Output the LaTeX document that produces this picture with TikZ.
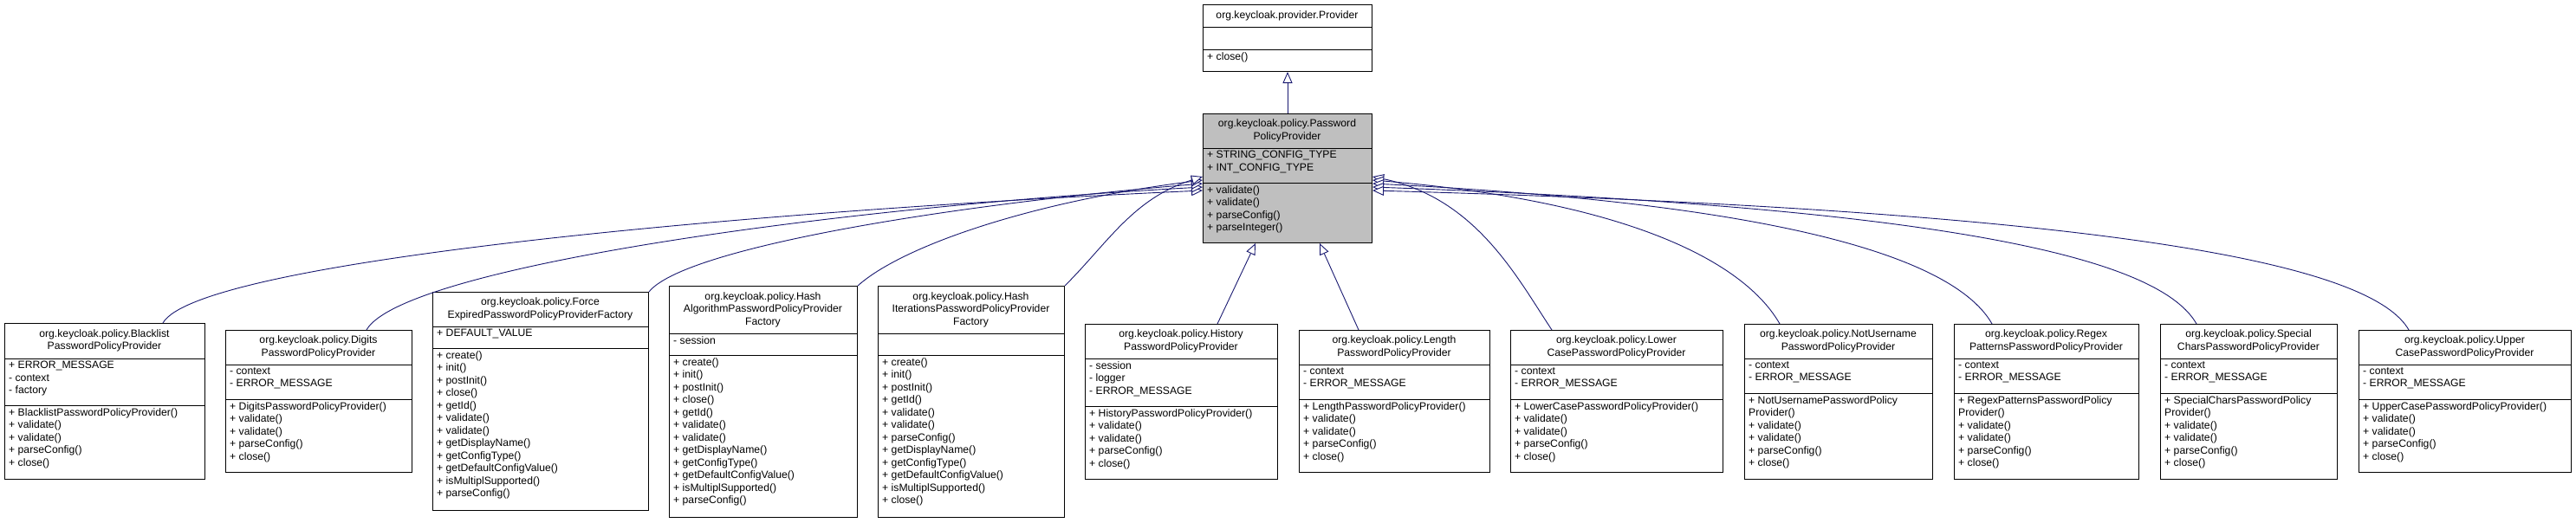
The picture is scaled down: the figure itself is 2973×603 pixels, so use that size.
\documentclass[tikz,border=0pt]{standalone}
\usepackage{fontspec}
\setmainfont{Liberation Sans}
\usetikzlibrary{arrows.meta}
\definecolor{edgec}{RGB}{25,25,112}
\definecolor{grayf}{RGB}{191,191,191}
\tikzset{
  box/.style={draw=black,line width=1pt,inner sep=0pt,anchor=north west},
  txt/.style={inner sep=0pt,align=left,anchor=north west,font=\fontsize{12.2}{14.5}\selectfont},
  ttl/.style={inner sep=0pt,align=center,font=\fontsize{12.2}{14.5}\selectfont},
  sep/.style={line width=1pt},
  inh/.style={draw=edgec,line width=0.9pt,-{Triangle[open,length=13pt,width=11pt,fill=white]}}
}
% name x1 x2 top y1 y2 bottom fill title
\newcommand\umlbox[9]{%
  \node[box,fill=#8,minimum width=#3-#2,minimum height=#7-#4] (#1) at (#2,-#4) {};
  \draw[sep] (#2,-#5) -- (#3,-#5);
  \draw[sep] (#2,-#6) -- (#3,-#6);
  \node[ttl] (#1t) at ({(#2+#3)/2},{-(#4+#5)/2}) {#9};
}
\newcommand\umltxt[4]{\node[txt] (#1) at (#2+5,-#3-3) {#4};}
\begin{document}
\begin{tikzpicture}[x=1pt,y=1pt]
\useasboundingbox (0,0) rectangle (2973,-603);
% top classes
\umlbox{prov}{1388}{1583}{5}{31}{57}{82}{white}{org.keycloak.provider.Provider}
\umltxt{provm}{1388}{57}{+ close()}
\umlbox{ppp}{1388}{1583}{131}{171}{211}{280}{grayf}{org.keycloak.policy.Password\\PolicyProvider}
\umltxt{pppa}{1388}{171}{+ STRING\_CONFIG\_TYPE\\+ INT\_CONFIG\_TYPE}
\umltxt{pppm}{1388}{211}{+ validate()\\+ validate()\\+ parseConfig()\\+ parseInteger()}
% children
\umlbox{bl}{5}{236}{373}{414}{468}{553}{white}{org.keycloak.policy.Blacklist\\PasswordPolicyProvider}
\umltxt{bla}{5}{414}{+ ERROR\_MESSAGE\\- context\\- factory}
\umltxt{blm}{5}{468}{+ BlacklistPasswordPolicyProvider()\\+ validate()\\+ validate()\\+ parseConfig()\\+ close()}
\umlbox{dg}{260}{475}{381}{421}{461}{545}{white}{org.keycloak.policy.Digits\\PasswordPolicyProvider}
\umltxt{dga}{260}{421}{- context\\- ERROR\_MESSAGE}
\umltxt{dgm}{260}{461}{+ DigitsPasswordPolicyProvider()\\+ validate()\\+ validate()\\+ parseConfig()\\+ close()}
\umlbox{fe}{499}{748}{337}{377}{402}{589}{white}{org.keycloak.policy.Force\\ExpiredPasswordPolicyProviderFactory}
\umltxt{fea}{499}{377}{+ DEFAULT\_VALUE}
\umltxt{fem}{499}{402}{+ create()\\+ init()\\+ postInit()\\+ close()\\+ getId()\\+ validate()\\+ validate()\\+ getDisplayName()\\+ getConfigType()\\+ getDefaultConfigValue()\\+ isMultiplSupported()\\+ parseConfig()}
\umlbox{ha}{772}{989}{330}{385}{410}{597}{white}{org.keycloak.policy.Hash\\AlgorithmPasswordPolicyProvider\\Factory}
\umltxt{haa}{772}{385}{- session}
\umltxt{ham}{772}{410}{+ create()\\+ init()\\+ postInit()\\+ close()\\+ getId()\\+ validate()\\+ validate()\\+ getDisplayName()\\+ getConfigType()\\+ getDefaultConfigValue()\\+ isMultiplSupported()\\+ parseConfig()}
\umlbox{hi}{1013}{1228}{330}{385}{410}{597}{white}{org.keycloak.policy.Hash\\IterationsPasswordPolicyProvider\\Factory}
\umltxt{him}{1013}{410}{+ create()\\+ init()\\+ postInit()\\+ getId()\\+ validate()\\+ validate()\\+ parseConfig()\\+ getDisplayName()\\+ getConfigType()\\+ getDefaultConfigValue()\\+ isMultiplSupported()\\+ close()}
\umlbox{hs}{1252}{1474}{374}{414}{469}{553}{white}{org.keycloak.policy.History\\PasswordPolicyProvider}
\umltxt{hsa}{1252}{414}{- session\\- logger\\- ERROR\_MESSAGE}
\umltxt{hsm}{1252}{469}{+ HistoryPasswordPolicyProvider()\\+ validate()\\+ validate()\\+ parseConfig()\\+ close()}
\umlbox{ln}{1499}{1719}{381}{421}{461}{545}{white}{org.keycloak.policy.Length\\PasswordPolicyProvider}
\umltxt{lna}{1499}{421}{- context\\- ERROR\_MESSAGE}
\umltxt{lnm}{1499}{461}{+ LengthPasswordPolicyProvider()\\+ validate()\\+ validate()\\+ parseConfig()\\+ close()}
\umlbox{lc}{1743}{1988}{381}{421}{461}{545}{white}{org.keycloak.policy.Lower\\CasePasswordPolicyProvider}
\umltxt{lca}{1743}{421}{- context\\- ERROR\_MESSAGE}
\umltxt{lcm}{1743}{461}{+ LowerCasePasswordPolicyProvider()\\+ validate()\\+ validate()\\+ parseConfig()\\+ close()}
\umlbox{nu}{2013}{2230}{374}{414}{454}{553}{white}{org.keycloak.policy.NotUsername\\PasswordPolicyProvider}
\umltxt{nua}{2013}{414}{- context\\- ERROR\_MESSAGE}
\umltxt{num}{2013}{454}{+ NotUsernamePasswordPolicy\\Provider()\\+ validate()\\+ validate()\\+ parseConfig()\\+ close()}
\umlbox{rg}{2255}{2468}{374}{414}{454}{553}{white}{org.keycloak.policy.Regex\\PatternsPasswordPolicyProvider}
\umltxt{rga}{2255}{414}{- context\\- ERROR\_MESSAGE}
\umltxt{rgm}{2255}{454}{+ RegexPatternsPasswordPolicy\\Provider()\\+ validate()\\+ validate()\\+ parseConfig()\\+ close()}
\umlbox{sc}{2493}{2697}{374}{414}{454}{553}{white}{org.keycloak.policy.Special\\CharsPasswordPolicyProvider}
\umltxt{sca}{2493}{414}{- context\\- ERROR\_MESSAGE}
\umltxt{scm}{2493}{454}{+ SpecialCharsPasswordPolicy\\Provider()\\+ validate()\\+ validate()\\+ parseConfig()\\+ close()}
\umlbox{uc}{2722}{2967}{381}{421}{461}{545}{white}{org.keycloak.policy.Upper\\CasePasswordPolicyProvider}
\umltxt{uca}{2722}{421}{- context\\- ERROR\_MESSAGE}
\umltxt{ucm}{2722}{461}{+ UpperCasePasswordPolicyProvider()\\+ validate()\\+ validate()\\+ parseConfig()\\+ close()}
% connectors
\draw[inh] (ppp.north) -- (prov.south);
\draw[inh] ([xshift=183pt]bl.north west) .. controls +(40,70) and +(-550,-25) .. ([yshift=-89pt]ppp.north west);
\draw[inh] ([xshift=163pt]dg.north west) .. controls +(40,70) and +(-450,-25) .. ([yshift=-85pt]ppp.north west);
\draw[inh] (fe.north east) .. controls +(40,50) and +(-300,-25) .. ([yshift=-81pt]ppp.north west);
\draw[inh] (ha.north east) .. controls +(50,45) and +(-200,-25) .. ([yshift=-77pt]ppp.north west);
\draw[inh] (hi.north east) .. controls +(50,50) and +(-80,-25) .. ([yshift=-73pt]ppp.north west);
\draw[inh] ([xshift=153pt]hs.north west) -- ([xshift=61pt]ppp.south west);
\draw[inh] ([xshift=69pt]ln.north west) -- ([xshift=135pt]ppp.south west);
\draw[inh] ([xshift=48pt]lc.north west) .. controls +(-40,60) and +(120,-25) .. ([yshift=-73pt]ppp.north east);
\draw[inh] ([xshift=41pt]nu.north west) .. controls +(-40,70) and +(300,-25) .. ([yshift=-77pt]ppp.north east);
\draw[inh] ([xshift=44pt]rg.north west) .. controls +(-40,70) and +(500,-25) .. ([yshift=-81pt]ppp.north east);
\draw[inh] ([xshift=42pt]sc.north west) .. controls +(-40,70) and +(700,-25) .. ([yshift=-85pt]ppp.north east);
\draw[inh] ([xshift=58pt]uc.north west) .. controls +(-40,70) and +(900,-25) .. ([yshift=-89pt]ppp.north east);
\end{tikzpicture}
\end{document}
